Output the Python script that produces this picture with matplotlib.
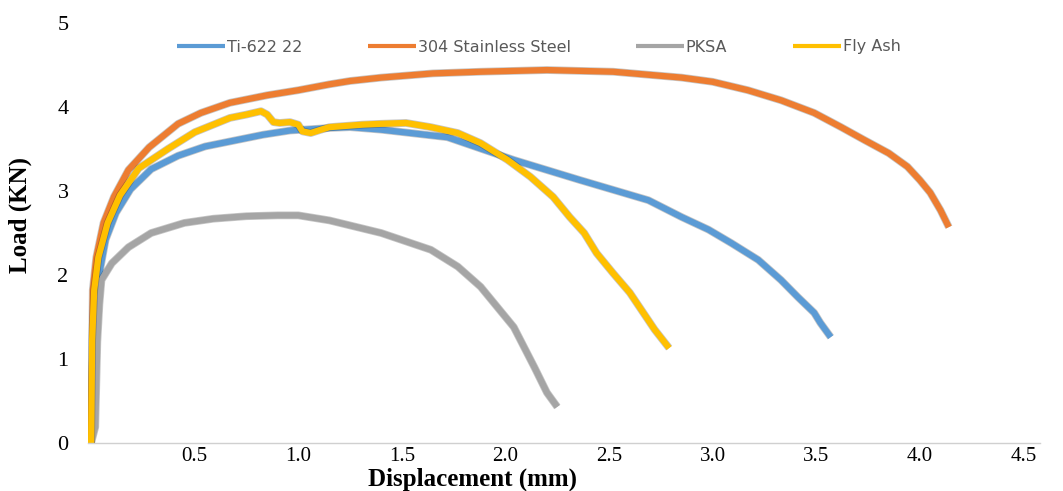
import matplotlib
matplotlib.use("Agg")
import matplotlib.pyplot as plt
import matplotlib.patheffects as pe

# ---- data (displacement mm, load kN) ----
ti_x = [0.0, 0.005, 0.015, 0.04, 0.07, 0.12, 0.19, 0.29, 0.42, 0.55, 0.69, 0.83,
        0.96, 1.15, 1.25, 1.40, 1.72, 2.04, 2.36, 2.69, 2.85, 2.98, 3.09, 3.22,
        3.33, 3.41, 3.49, 3.52, 3.57]
ti_y = [0.0, 0.75, 1.46, 2.02, 2.42, 2.74, 3.02, 3.26, 3.42, 3.53, 3.60, 3.67,
        3.72, 3.75, 3.76, 3.73, 3.64, 3.37, 3.13, 2.89, 2.69, 2.54, 2.38, 2.18,
        1.94, 1.74, 1.55, 1.43, 1.26]

ss_x = [0.0, 0.005, 0.008, 0.025, 0.06, 0.11, 0.18, 0.28, 0.42, 0.53, 0.67, 0.85,
        1.00, 1.15, 1.25, 1.40, 1.65, 1.88, 2.20, 2.52, 2.85, 3.00, 3.17, 3.33,
        3.49, 3.62, 3.73, 3.85, 3.94, 4.00, 4.05, 4.10, 4.14]
ss_y = [0.0, 1.00, 1.82, 2.21, 2.62, 2.93, 3.25, 3.52, 3.80, 3.93, 4.05, 4.14,
        4.20, 4.27, 4.31, 4.35, 4.40, 4.42, 4.44, 4.42, 4.35, 4.30, 4.20, 4.08,
        3.93, 3.76, 3.61, 3.45, 3.29, 3.13, 2.98, 2.77, 2.57]

pksa_x = [0.0, 0.02, 0.03, 0.04, 0.05, 0.10, 0.18, 0.29, 0.45, 0.59, 0.75, 0.90,
          1.00, 1.15, 1.40, 1.64, 1.77, 1.88, 1.96, 2.04, 2.09, 2.14, 2.20, 2.25]
pksa_y = [0.0, 0.19, 1.20, 1.65, 1.94, 2.14, 2.33, 2.50, 2.62, 2.67, 2.70, 2.71,
          2.71, 2.65, 2.50, 2.30, 2.10, 1.86, 1.62, 1.38, 1.14, 0.90, 0.60, 0.43]

fly_x = [0.0, 0.005, 0.015, 0.035, 0.08, 0.14, 0.23, 0.37, 0.50, 0.61, 0.67, 0.75,
         0.82, 0.85, 0.88, 0.91, 0.96, 1.00, 1.02, 1.06, 1.11, 1.15, 1.31, 1.40,
         1.52, 1.64, 1.77, 1.88, 2.01, 2.12, 2.23, 2.31, 2.38, 2.44, 2.52, 2.60,
         2.69, 2.72, 2.79]
fly_y = [0.0, 1.23, 1.82, 2.21, 2.62, 2.95, 3.27, 3.50, 3.70, 3.81, 3.87, 3.91,
         3.95, 3.91, 3.82, 3.81, 3.82, 3.79, 3.71, 3.69, 3.73, 3.76, 3.79, 3.80,
         3.81, 3.76, 3.69, 3.57, 3.37, 3.17, 2.93, 2.69, 2.50, 2.26, 2.02, 1.79,
         1.46, 1.35, 1.13]

x_ticks = [0.5, 1.0, 1.5, 2.0, 2.5, 3.0, 3.5, 4.0, 4.5]
y_ticks = [0, 1, 2, 3, 4, 5]

series = [
    ("Ti-622 22", ti_x, ti_y, "#5B9BD5"),
    ("304 Stainless Steel", ss_x, ss_y, "#ED7D31"),
    ("PKSA", pksa_x, pksa_y, "#A5A5A5"),
    ("Fly Ash", fly_x, fly_y, "#FFC000"),
]

fig = plt.figure(figsize=(10.63, 4.91), dpi=100)
ax = fig.add_axes([88 / 1063, 1 - 443 / 491, (1040 - 88) / 1063, (443 - 23) / 491])

for label, xs, ys, col in series:
    ax.plot(xs, ys, color=col, lw=4.5, label=label, solid_capstyle="butt",
            solid_joinstyle="round",
            path_effects=[pe.Stroke(linewidth=5.6, foreground="black", alpha=0.22),
                          pe.Normal()])

ax.set_xlim(-0.015, 4.58)
ax.set_ylim(0, 5)
for s in ["top", "right", "left"]:
    ax.spines[s].set_visible(False)
ax.spines["bottom"].set_color("#d0d0d0")
ax.spines["bottom"].set_linewidth(1.0)

ax.set_xticks(x_ticks)
ax.set_xticklabels([f"{v:.1f}" for v in x_ticks], family="Liberation Serif", fontsize=15)
ax.set_yticks(y_ticks)
ax.set_yticklabels([str(v) for v in y_ticks], family="Liberation Serif", fontsize=16)
ax.tick_params(axis="x", length=0, pad=3)
ax.tick_params(axis="y", length=0, pad=14)

fig.text(472 / 1063, 1 - 479 / 491, "Displacement (mm)", family="Liberation Serif",
         fontweight="bold", fontsize=18, ha="center", va="center")
fig.text(20 / 1063, 1 - 215 / 491, "Load (KN)", family="Liberation Serif",
         fontweight="bold", fontsize=18, rotation=90, ha="center", va="center")

leg = ax.legend(loc="center left", bbox_to_anchor=(177 / 1063, 1 - 47 / 491),
                bbox_transform=fig.transFigure, ncol=4, frameon=False,
                fontsize=11.5, handlelength=3.0, handletextpad=0.12,
                columnspacing=4.1, borderpad=0, borderaxespad=0)
for t in leg.get_texts():
    t.set_color("#595959")
for h in leg.get_lines():
    h.set_linewidth(3)
    h.set_path_effects([])

fig.savefig("out.png", dpi=100)
